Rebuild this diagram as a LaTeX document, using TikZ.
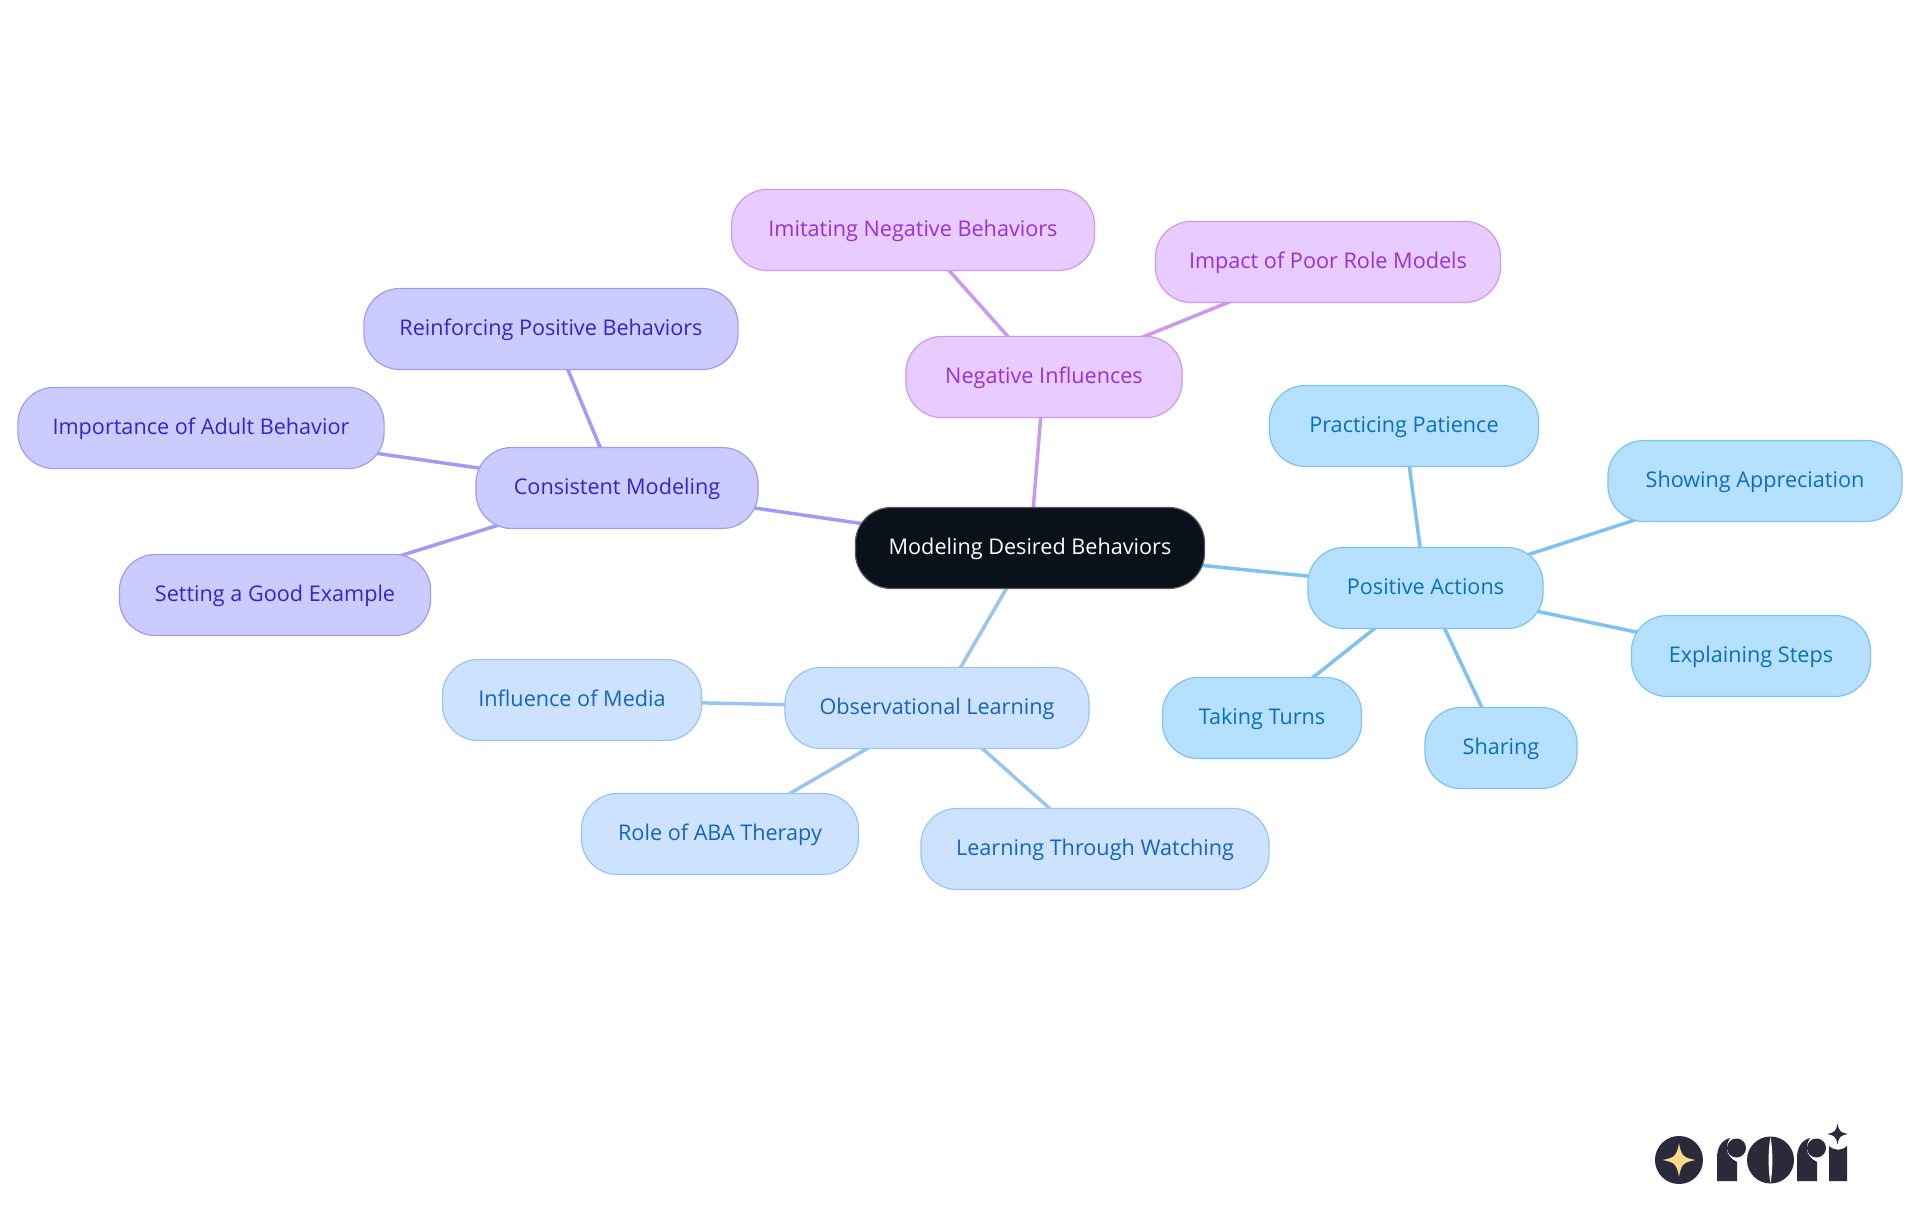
\documentclass[tikz,border=0pt]{standalone}
\usepackage{fontspec}
\setmainfont{Open Sans}
\usetikzlibrary{backgrounds}
\definecolor{rootfill}{HTML}{0B111A}
\definecolor{posfill}{HTML}{B5E0FF}
\definecolor{posline}{HTML}{7CC2F2}
\definecolor{postext}{HTML}{0A70BD}
\definecolor{obsfill}{HTML}{CCE2FF}
\definecolor{obsline}{HTML}{9AC4F2}
\definecolor{obstext}{HTML}{1565C0}
\definecolor{modfill}{HTML}{CBCBFF}
\definecolor{modline}{HTML}{A29BF5}
\definecolor{modtext}{HTML}{3524C8}
\definecolor{negfill}{HTML}{E8CBFF}
\definecolor{negline}{HTML}{CC99F0}
\definecolor{negtext}{HTML}{9A30D6}
\definecolor{logoink}{HTML}{2A2A3A}
\definecolor{logostar}{HTML}{FBD98A}
\tikzset{
    bubble/.style={rounded corners=0.36cm,minimum height=0.81cm,inner sep=0pt,
        text height=1.65mm,text depth=0.45mm,
        line width=0.12mm,font=\fontsize{6.15}{8}\selectfont},
    rootnode/.style={bubble,draw=gray!70!black,fill=rootfill,text=white},
    posnode/.style={bubble,draw=posline,fill=posfill,text=postext},
    obsnode/.style={bubble,draw=obsline,fill=obsfill,text=obstext},
    modnode/.style={bubble,draw=modline,fill=modfill,text=modtext},
    negnode/.style={bubble,draw=negline,fill=negfill,text=negtext},
}
\newcommand{\logostarshape}[4]{% centre x, y, half size, colour
    \fill[#4] (#1-#3,#2) .. controls (#1-#3*0.25,#2-#3*0.15) and (#1-#3*0.15,#2-#3*0.25) .. (#1,#2-#3)
        .. controls (#1+#3*0.15,#2-#3*0.25) and (#1+#3*0.25,#2-#3*0.15) .. (#1+#3,#2)
        .. controls (#1+#3*0.25,#2+#3*0.15) and (#1+#3*0.15,#2+#3*0.25) .. (#1,#2+#3)
        .. controls (#1-#3*0.15,#2+#3*0.25) and (#1-#3*0.25,#2+#3*0.15) .. (#1-#3,#2) -- cycle;
}
\newcommand{\logoletter}[1]{% left edge of the r
    \fill[logoink] (#1,1181) -- (#1,1158) .. controls (#1,1147) and (#1+5,1140) .. (#1+13,1138)
        .. controls (#1+8,1146) and (#1+8,1156) .. (#1+20,1162) -- (#1+20,1181) -- cycle;
    \fill[logoink] (#1+19.5,1148) circle (9.5);
}
\begin{document}
\begin{tikzpicture}[x=0.01cm,y=-0.01cm]
    \useasboundingbox (0,0) rectangle (1920,1215);
    %% Root
    \node[rootnode,minimum width=3.49cm] (root) at (1030,548) {Modeling Desired Behaviors};
    %% Positive
    \node[posnode,minimum width=2.35cm] (pos) at (1425.5,588) {Positive Actions};
    \node[posnode,minimum width=2.69cm] (patience) at (1404,426) {Practicing Patience};
    \node[posnode,minimum width=2.94cm] (appreciation) at (1755,481) {Showing Appreciation};
    \node[posnode,minimum width=2.39cm] (steps) at (1751,656) {Explaining Steps};
    \node[posnode,minimum width=1.52cm] (sharing) at (1501,748) {Sharing};
    \node[posnode,minimum width=1.99cm] (turns) at (1262,718) {Taking Turns};
    %% Observational
    \node[obsnode,minimum width=3.04cm] (obs) at (937,708) {Observational Learning};
    \node[obsnode,minimum width=2.59cm] (media) at (572,700) {Influence of Media};
    \node[obsnode,minimum width=2.77cm] (aba) at (720,834) {Role of ABA Therapy};
    \node[obsnode,minimum width=3.48cm] (watching) at (1095,849) {Learning Through Watching};
    %% Consistent
    \node[modnode,minimum width=2.82cm] (mod) at (617,488) {Consistent Modeling};
    \node[modnode,minimum width=3.74cm] (reinforcing) at (551,329) {Reinforcing Positive Behaviors};
    \node[modnode,minimum width=3.66cm] (adult) at (201,428) {Importance of Adult Behavior};
    \node[modnode,minimum width=3.11cm] (example) at (275,595) {Setting a Good Example};
    %% Negative
    \node[negnode,minimum width=2.76cm] (neg) at (1044,377) {Negative Influences};
    \node[negnode,minimum width=3.63cm] (imitating) at (913,230) {Imitating Negative Behaviors};
    \node[negnode,minimum width=3.45cm] (poor) at (1328,262) {Impact of Poor Role Models};
    %% Connectors
    \begin{pgfonlayer}{background}
        \foreach \a/\b/\c in {root/pos/posline,pos/patience/posline,pos/appreciation/posline,
            pos/steps/posline,pos/sharing/posline,pos/turns/posline,
            root/obs/obsline,obs/media/obsline,obs/aba/obsline,obs/watching/obsline,
            root/mod/modline,mod/reinforcing/modline,mod/adult/modline,mod/example/modline,
            root/neg/negline,neg/imitating/negline,neg/poor/negline}
            \draw[\c,line width=0.35mm] (\a.center) -- (\b.center);
    \end{pgfonlayer}
    %% Logo
    \fill[logoink] (1679,1160) circle (24);
    \logostarshape{1679}{1160}{16.5}{logostar}
    \logoletter{1717}
    \fill[logoink] (1770.5,1160) circle (23.5);
    \fill[white] (1770.5,1137) .. controls (1768,1150) and (1768,1170) .. (1770.5,1183)
        .. controls (1773,1170) and (1773,1150) .. (1770.5,1137) -- cycle;
    \logoletter{1797}
    \fill[logoink] (1829,1181) -- (1829,1146) .. controls (1835,1151) and (1841,1151) .. (1847,1146)
        -- (1847,1181) -- cycle;
    \logostarshape{1837.5}{1134}{10.5}{logoink}
\end{tikzpicture}
\end{document}
